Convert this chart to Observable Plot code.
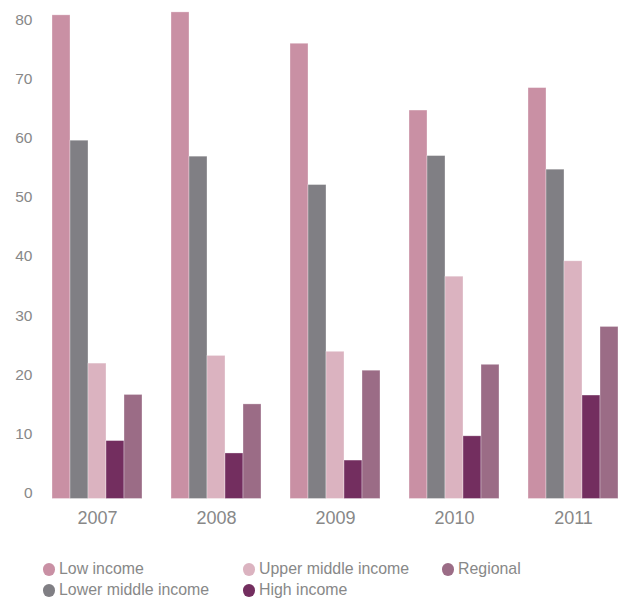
<!DOCTYPE html>
<html>
<head>
<meta charset="utf-8">
<script src="https://cdn.jsdelivr.net/npm/d3@7"></script>
<script src="https://cdn.jsdelivr.net/npm/@observablehq/plot@0.6"></script>
<style>
  html, body { margin: 0; padding: 0; background: #fff; }
  #wrap { position: relative; width: 620px; height: 600px; font-family: "Liberation Sans", Arial, sans-serif; }
  #chart svg { display: block; }
  .item { position: absolute; display: flex; align-items: center; height: 20px; font-size: 17px; line-height: 20px; color: #888; white-space: nowrap; }
  .sw { width: 12.5px; height: 13px; border-radius: 50%; margin-right: 4px; flex: none; }
  .lab { display: inline-block; transform: scaleX(0.935); transform-origin: left center; }
</style>
</head>
<body>
<div id="wrap">
  <div id="chart"></div>
  <div id="legend"></div>
</div>
<script>
const years = ["2007", "2008", "2009", "2010", "2011"];
const series = ["Low income", "Lower middle income", "Upper middle income", "High income", "Regional"];
const colors = ["#c990a4", "#807f84", "#dbb3c0", "#732e5f", "#9b6c86"];
const lowIncome = [81.8, 82.3, 77.0, 65.7, 69.5];
const lowerMiddleIncome = [60.6, 57.9, 53.1, 58.0, 55.7];
const upperMiddleIncome = [22.9, 24.2, 24.9, 37.6, 40.2];
const highIncome = [9.8, 7.7, 6.5, 10.6, 17.5];
const regional = [17.6, 16.0, 21.7, 22.7, 29.1];
const yTicks = [0, 10, 20, 30, 40, 50, 60, 70, 80];

const seriesValues = [lowIncome, lowerMiddleIncome, upperMiddleIncome, highIncome, regional];
const table = [];
years.forEach((yr, i) => series.forEach((s, j) => table.push({year: yr, series: s, value: seriesValues[j][i]})));

const chart = Plot.plot({
  width: 620,
  height: 530,
  marginLeft: 50,
  marginRight: 0,
  marginTop: 1.85,
  marginBottom: 31.5,
  style: {fontFamily: "'Liberation Sans', Arial, sans-serif", color: "#888", background: "white"},
  fx: {domain: years, paddingInner: 0.23, paddingOuter: 0, label: null},
  x: {domain: series, padding: 0, axis: null},
  y: {domain: [0, 84], label: null},
  color: {domain: series, range: colors},
  marks: [
    Plot.barY(table, {fx: "year", x: "series", y: "value", fill: "series", stroke: "white", strokeOpacity: 0.45, strokeWidth: 0.7}),
    Plot.axisY({ticks: yTicks, tickSize: 0, tickPadding: 19, fontSize: 15.5, dy: -6, label: null}),
    Plot.axisFx({anchor: "bottom", tickSize: 0, tickPadding: 12.5, fontSize: 18, label: null})
  ]
});
document.getElementById("chart").appendChild(chart);

// Legend (HTML, below the SVG)
const legendPos = [
  {left: 42.7, top: 559},
  {left: 42.7, top: 580},
  {left: 242.7, top: 559},
  {left: 242.7, top: 580},
  {left: 441.7, top: 559}
];
const legend = document.getElementById("legend");
series.forEach((s, i) => {
  const d = document.createElement("div");
  d.className = "item";
  d.style.left = legendPos[i].left + "px";
  d.style.top = legendPos[i].top + "px";
  const sw = document.createElement("span");
  sw.className = "sw";
  sw.style.background = colors[i];
  const t = document.createElement("span");
  t.className = "lab";
  t.textContent = s;
  d.appendChild(sw);
  d.appendChild(t);
  legend.appendChild(d);
});
</script>
</body>
</html>
